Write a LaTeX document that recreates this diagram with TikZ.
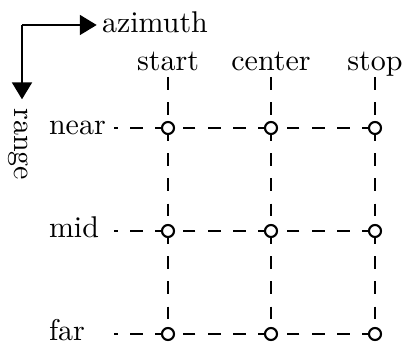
\documentclass[tikz,border=0pt]{standalone}
\usetikzlibrary{arrows.meta,backgrounds}
\tikzset{
  dot/.style={circle,draw,fill=white,inner sep=0pt,minimum size=4pt,line width=0.7pt},
  gridline/.style={line width=0.7pt,dash pattern=on 4.2pt off 4.2pt},
  arr/.style={line width=0.7pt,-{Triangle[length=5.6pt,width=6.6pt]}},
  lbl/.style={inner sep=0pt,outer sep=0pt}
}
\begin{document}
\begin{tikzpicture}[x=0.33333pt,y=-0.33333pt]
\useasboundingbox (0,0) rectangle (405,343);
% axes
\coordinate (corner) at (22,25);
\node[lbl,anchor=base west,inner sep=1.77pt] (az) at (96.7,33) {azimuth};
\node[lbl,rotate=-90,anchor=base west,inner sep=3pt] (rg) at (15,99.3) {range};
\draw[arr] (corner) -- (corner -| az.west);
\draw[arr] (corner) -- (corner |- rg.west);
% column labels
\node[lbl,anchor=base] (cstart) at (168,71) {start};
\node[lbl,anchor=base] (ccenter) at (271,71) {center};
\node[lbl,anchor=base] (cstop) at (375,71) {stop};
\coordinate (t1) at (168,77);
\coordinate (t2) at (271,77);
\coordinate (t3) at (375,77);
% row labels
\node[lbl,anchor=base west] (rnear) at (49,134.5) {near};
\node[lbl,anchor=base west] (rmid) at (49,237.5) {mid};
\node[lbl,anchor=base west] (rfar) at (49,340.5) {far};
\coordinate (l1) at (114,128);
\coordinate (l2) at (114,231);
\coordinate (l3) at (114,334);
% grid points
\foreach \c/\x in {1/168,2/271,3/375}{
  \foreach \r/\y in {1/128,2/231,3/334}{
    \node[dot] (p\c\r) at (\x,\y) {};
  }
}
\begin{pgfonlayer}{background}
  \foreach \r in {1,2,3}{
    \draw[gridline] (p3\r.center) -- (p2\r.center);
    \draw[gridline] (p2\r.center) -- (p1\r.center);
    \draw[gridline] (p1\r.center) -- (l\r);
  }
  \foreach \c in {1,2,3}{
    \draw[gridline] (t\c) -- (p\c1.center);
    \draw[gridline] (p\c1.center) -- (p\c2.center);
    \draw[gridline] (p\c2.center) -- (p\c3.center);
  }
\end{pgfonlayer}
\end{tikzpicture}
\end{document}
